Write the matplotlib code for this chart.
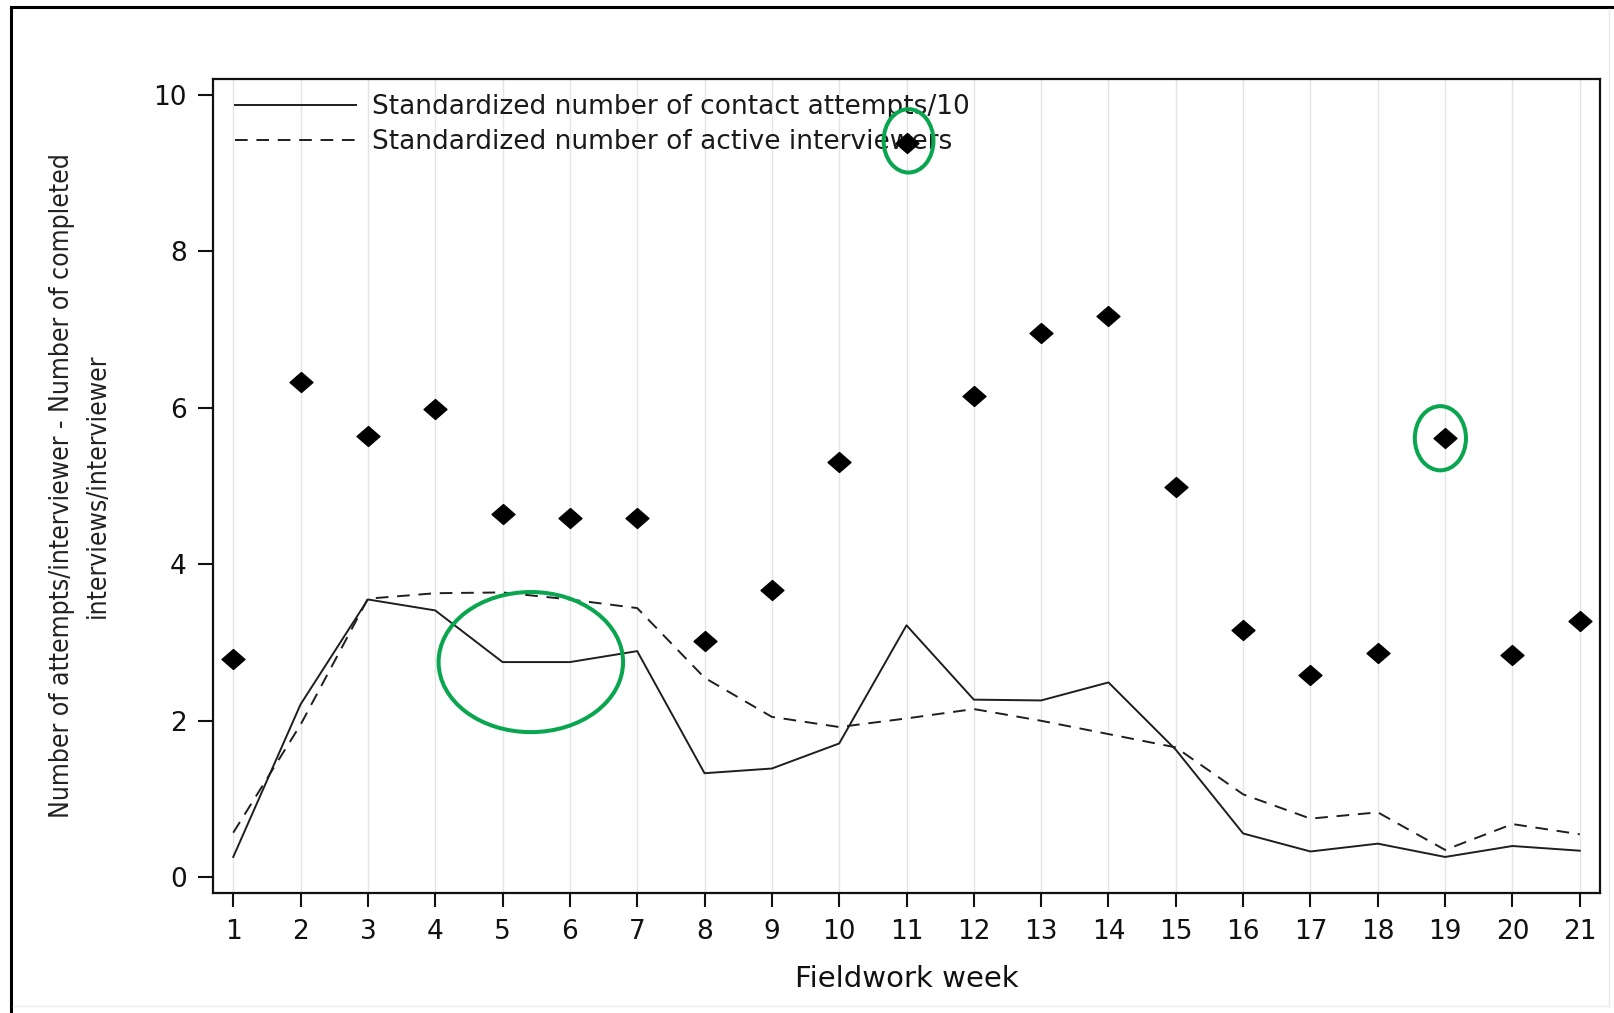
import numpy as np
import matplotlib
matplotlib.use('Agg')
import matplotlib.pyplot as plt
from matplotlib.patches import Ellipse
from matplotlib.path import Path
from matplotlib.lines import Line2D

weeks = list(range(1, 22))

# attempts per interviewer minus completed interviews per interviewer
diff_per_interviewer = [2.79, 6.33, 5.64, 5.99, 4.64, 4.59, 4.59, 3.02, 3.67, 5.31, 9.38,
                        6.15, 6.96, 7.17, 4.99, 3.16, 2.59, 2.86, 5.61, 2.84, 3.27]

contact_attempts = [0.26, 2.21, 3.55, 3.41, 2.75, 2.75, 2.89, 1.33, 1.39, 1.71, 3.22,
                    2.27, 2.26, 2.49, 1.63, 0.56, 0.33, 0.43, 0.26, 0.40, 0.34]

active_interviewers = [0.57, 1.95, 3.56, 3.63, 3.64, 3.55, 3.44, 2.55, 2.05, 1.92, 2.03,
                       2.15, 2.00, 1.83, 1.66, 1.06, 0.75, 0.83, 0.35, 0.68, 0.55]

label_attempts = 'Standardized number of contact attempts/10'
label_active = 'Standardized number of active interviewers'

# highlighted spots: (week, value, width, height)
highlights = [(11.03, 9.41, 0.74, 0.81),
              (18.93, 5.61, 0.76, 0.82),
              (5.42, 2.75, 2.74, 1.79)]

plt.rcParams['font.family'] = 'DejaVu Sans'

fig = plt.figure(figsize=(16.14, 10.13), dpi=100)
ax = fig.add_axes([0.132, 0.1185, 0.8593, 0.8035])

ax.set_xlim(0.7, 21.3)
ax.set_ylim(-0.2, 10.2)

ax.grid(axis='x', color='#e4e4e4', linewidth=1.0)
ax.set_axisbelow(True)

# slightly flattened diamond
diamond = Path([(-1.15, 0), (0, 1), (1.15, 0), (0, -1), (-1.15, 0)],
               [Path.MOVETO, Path.LINETO, Path.LINETO, Path.LINETO, Path.CLOSEPOLY])

ax.plot(weeks, contact_attempts, '-', color='#1e1e1e', linewidth=1.4,
        label=label_attempts, zorder=3)
ax.plot(weeks, active_interviewers, color='#1e1e1e', linewidth=1.4,
        linestyle=(0, (6.5, 4.5)), label=label_active, zorder=3)
ax.plot(weeks, diff_per_interviewer, linestyle='none', marker=diamond,
        markersize=16.5, color='black', zorder=6)

for x, y, w, h in highlights:
    ax.add_patch(Ellipse((x, y), w, h, fill=False, edgecolor='#0aa64f',
                         linewidth=2.9, zorder=7, clip_on=False))

leg = ax.legend(loc='upper left', bbox_to_anchor=(0.0099, 0.9914), frameon=False,
                fontsize=19, handlelength=4.6, handletextpad=0.6, labelspacing=0.36,
                borderaxespad=0.0, borderpad=0.3)
leg.set_zorder(2)
for t in leg.get_texts():
    t.set_color('#1a1a1a')

ax.set_xticks(weeks)
ax.set_yticks([0, 2, 4, 6, 8, 10])
ax.tick_params(axis='x', length=10, width=1.5, pad=9, labelsize=19, colors='#111111')
ax.tick_params(axis='y', length=11, width=1.5, pad=8, labelsize=19, colors='#111111')
for s in ax.spines.values():
    s.set_linewidth(1.6)
    s.set_color('#111111')

ax.set_xlabel('Fieldwork week', fontsize=21, color='#111111')
ax.xaxis.set_label_coords(0.5, -0.088)

ax.set_ylabel('Number of attempts/interviewer - Number of completed\ninterviews/interviewer',
              fontsize=19, color='#222222', multialignment='center', linespacing=1.45,
              family='DejaVu Sans', fontstretch='condensed')
ax.yaxis.set_label_coords(-0.074, 0.5)

# outer frame around the whole graphic
W, H = 1614.0, 1013.0
fig.add_artist(Line2D([11 / W, 11 / W], [0, 1 - 7 / H], transform=fig.transFigure,
                      color='black', linewidth=2.2))
fig.add_artist(Line2D([11 / W, 1], [1 - 7 / H, 1 - 7 / H], transform=fig.transFigure,
                      color='black', linewidth=2.2))
fig.add_artist(Line2D([1609 / W, 1609 / W], [1 - 1006 / H, 1 - 9 / H],
                      transform=fig.transFigure, color='#e8e8e8', linewidth=1.0))
fig.add_artist(Line2D([13 / W, 1609 / W], [1 - 1006 / H, 1 - 1006 / H],
                      transform=fig.transFigure, color='#ececec', linewidth=1.0))

fig.savefig('out.png', dpi=100)
